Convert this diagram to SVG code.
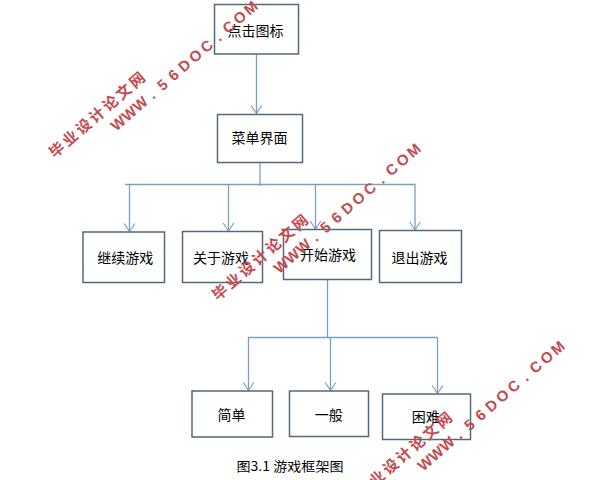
<svg xmlns="http://www.w3.org/2000/svg" width="606" height="480" viewBox="0 0 606 480">
  <defs>
    <marker id="arr" markerUnits="userSpaceOnUse" markerWidth="14" markerHeight="12" viewBox="-7 -10 14 12" refX="0" refY="0" orient="auto-start-reverse" overflow="visible">
      <path d="M -8,-5.3 L 0,0 L -8,5.3" fill="none" stroke="#7b9fc0" stroke-width="1.2"/>
    </marker>
    <style>
      .box { fill: #ffffff; stroke: #50697d; stroke-width: 1.5; }
      .lbl { font-family: "Noto Sans CJK SC", "Liberation Sans", sans-serif; font-size: 14px; fill: #000000; text-anchor: middle; }
      .cn { fill: none; stroke: #7b9fc0; stroke-width: 1.3; }
      .wmc { font-family: "Noto Sans CJK SC", sans-serif; font-size: 15px; font-weight: bold; fill: #c44a4f; text-anchor: middle; }
      .wml { font-family: "Liberation Sans", sans-serif; font-size: 15px; font-weight: bold; fill: #c44a4f; text-anchor: middle; }
      .cap { font-family: "Noto Sans CJK SC", sans-serif; font-size: 13px; fill: #000000; }
    </style>
  </defs>
  <rect width="606" height="480" fill="#ffffff"/>

  <g id="connectors">
    <line class="cn" x1="256.5" y1="54" x2="256.5" y2="113.5" marker-end="url(#arr)"/>
    <line class="cn" x1="260" y1="162" x2="260" y2="186"/>
    <line class="cn" x1="125" y1="184.5" x2="415.5" y2="184.5"/>
    <line class="cn" x1="129.5" y1="184.5" x2="129.5" y2="231.5" marker-end="url(#arr)"/>
    <line class="cn" x1="228.5" y1="184.5" x2="228.5" y2="231" marker-end="url(#arr)"/>
    <line class="cn" x1="315.5" y1="184.5" x2="315.5" y2="229" marker-end="url(#arr)"/>
    <line class="cn" x1="415" y1="184.5" x2="415" y2="230" marker-end="url(#arr)"/>
    <line class="cn" x1="327.5" y1="279" x2="327.5" y2="337.5"/>
    <line class="cn" x1="248" y1="337.5" x2="437.5" y2="337.5"/>
    <line class="cn" x1="248.5" y1="337.5" x2="248.5" y2="390.5" marker-end="url(#arr)"/>
    <line class="cn" x1="330.5" y1="337.5" x2="330.5" y2="390.5" marker-end="url(#arr)"/>
    <line class="cn" x1="437.5" y1="337.5" x2="437.5" y2="393.5" marker-end="url(#arr)"/>
  </g>

  <g id="n_click"><rect class="box" x="214.5" y="4.5" width="84" height="49.5"/><text class="lbl" x="255.5" y="36">点击图标</text></g>
  <g id="n_menu"><rect class="box" x="217.5" y="114.5" width="85" height="48"/><text class="lbl" x="259.5" y="143">菜单界面</text></g>
  <g id="n_continue"><rect class="box" x="83" y="232" width="81.5" height="50.5"/><text class="lbl" x="125.3" y="262.6">继续游戏</text></g>
  <g id="n_about"><rect class="box" x="182.5" y="231.5" width="80" height="51"/><text class="lbl" x="221" y="262.5">关于游戏</text></g>
  <g id="n_start"><rect class="box" x="283.5" y="229.5" width="88" height="50"/><text class="lbl" x="328" y="260.3">开始游戏</text></g>
  <g id="n_quit"><rect class="box" x="379.5" y="230.5" width="82" height="52"/><text class="lbl" x="419.5" y="262.5">退出游戏</text></g>
  <g id="n_easy"><rect class="box" x="192" y="391" width="80.5" height="46"/><text class="lbl" x="231.5" y="419.6">简单</text></g>
  <g id="n_normal"><rect class="box" x="289.5" y="391" width="79" height="45.5"/><text class="lbl" x="328.7" y="419.5">一般</text></g>
  <g id="n_hard"><rect class="box" x="382.5" y="394" width="88" height="45.5"/><text class="lbl" x="425.7" y="422">困难</text></g>

  <text class="cap" x="236.5" y="470.5" textLength="107" lengthAdjust="spacingAndGlyphs">图3.1 游戏框架图</text>

  <g id="watermark1" transform="translate(118,123) rotate(-41)">
    <text class="wmc" x="-63.7 -46 -28.3 -10.6 7.1 24.8 42.5" y="-14.5">毕业设计论文网</text>
    <text class="wml" x="0 14.65 29.3 43.95 58.6 73.25 87.9 102.55 117.2 131.85 146.5 161.15 175.8" y="5.5">WWW.56DOC.COM</text>
  </g>
  <g id="watermark2" transform="translate(281,265.5) rotate(-41)">
    <text class="wmc" x="-63.7 -46 -28.3 -10.6 7.1 24.8 42.5" y="-14.5">毕业设计论文网</text>
    <text class="wml" x="0 14.65 29.3 43.95 58.6 73.25 87.9 102.55 117.2 131.85 146.5 161.15 175.8" y="5.5">WWW.56DOC.COM</text>
  </g>
  <g id="watermark3" transform="translate(425,463) rotate(-41)">
    <text class="wmc" x="-63.7 -46 -28.3 -10.6 7.1 24.8 42.5" y="-14.5">毕业设计论文网</text>
    <text class="wml" x="0 14.65 29.3 43.95 58.6 73.25 87.9 102.55 117.2 131.85 146.5 161.15 175.8" y="5.5">WWW.56DOC.COM</text>
  </g>
</svg>
